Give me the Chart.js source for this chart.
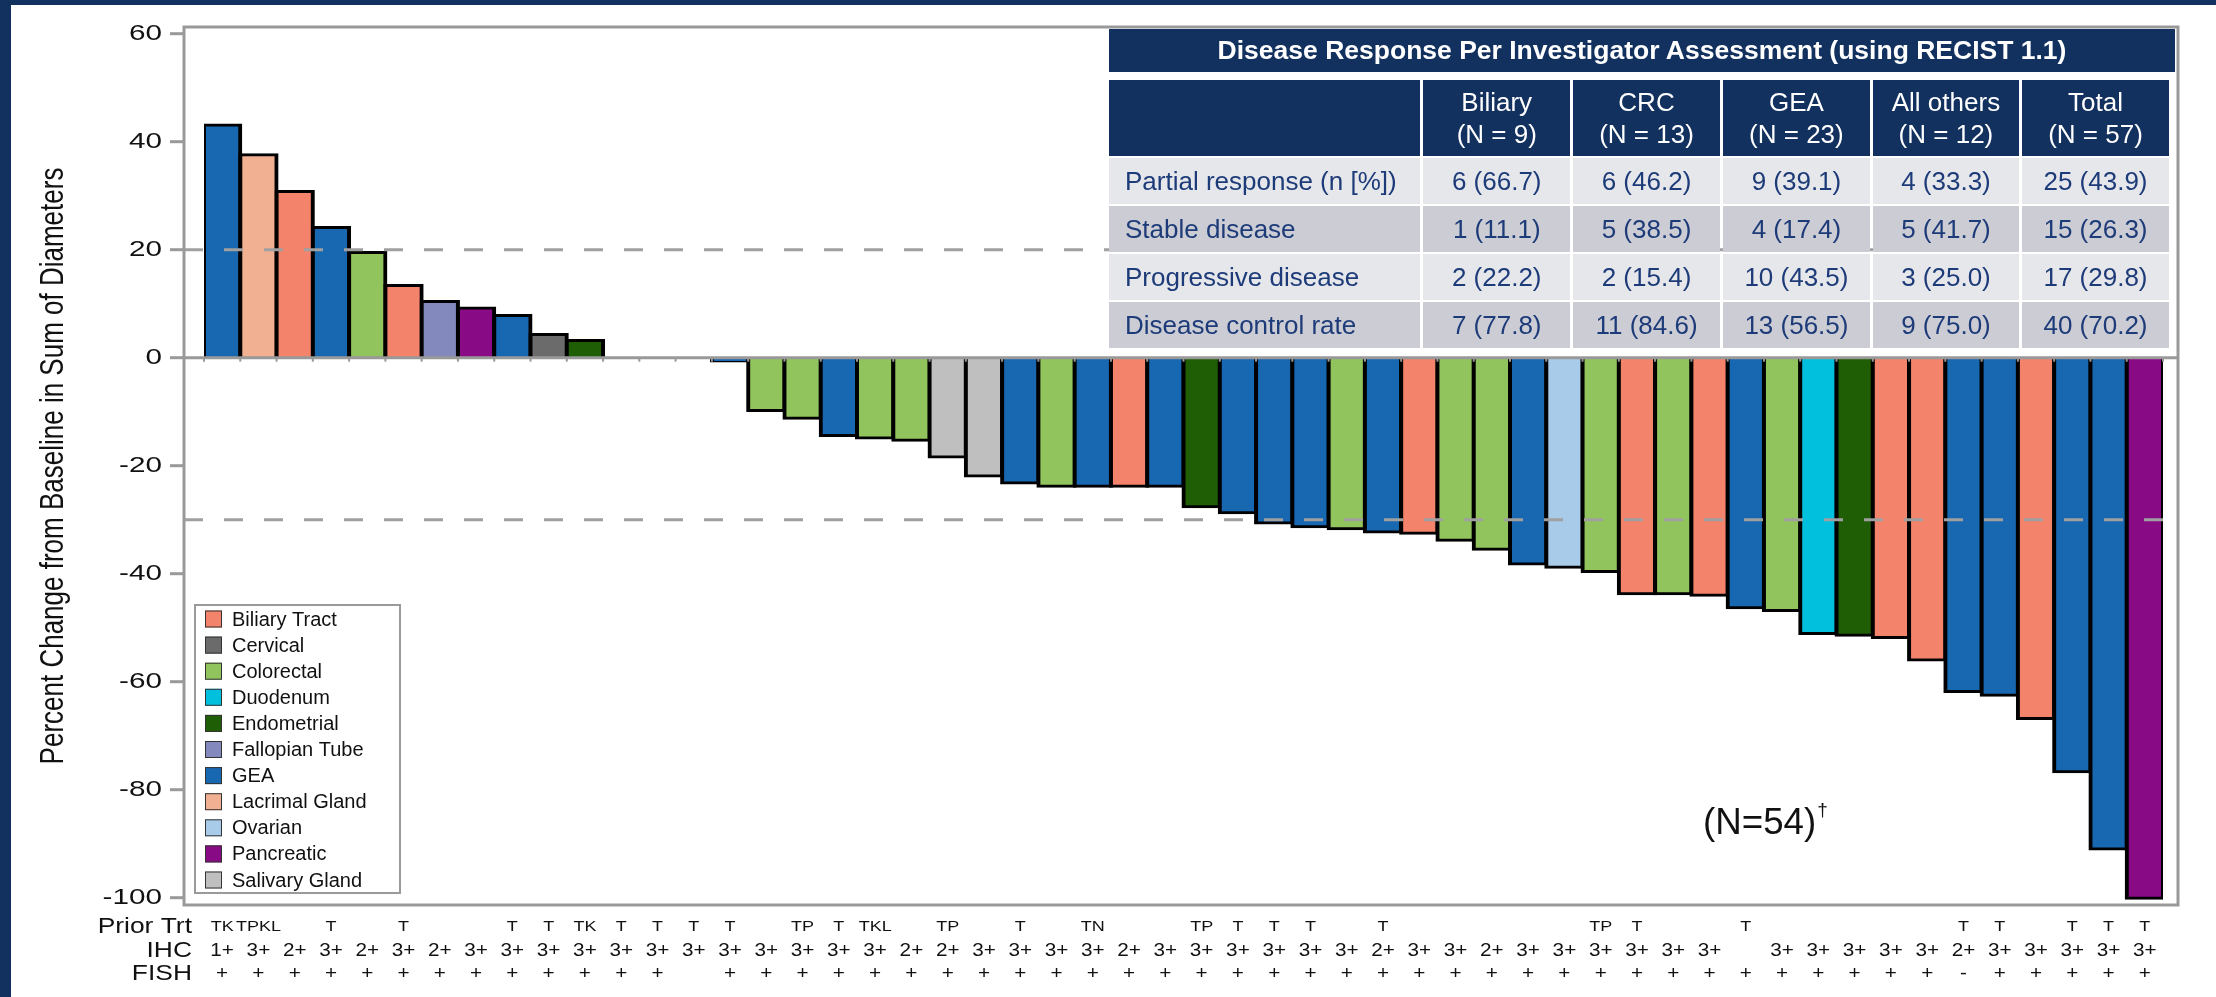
<!DOCTYPE html>
<html>
<head>
<meta charset="utf-8">
<script src="https://cdn.jsdelivr.net/npm/chart.js@4.4.1/dist/chart.umd.min.js"></script>
<style>
  html, body { margin: 0; padding: 0; background: #fff; }
  body { width: 2216px; height: 997px; position: relative; overflow: hidden; font-family: "Liberation Sans", Arial, sans-serif; }
  #chart { position: absolute; left: 0; top: 0; }
  .navy { position: absolute; background: #12315f; z-index: 5; }
  #resp { position: absolute; left: 1109px; top: 29px; width: 1066px; background: #fff; z-index: 4; }
  #resp .ttl { height: 43px; line-height: 43px; background: #12315f; color: #fff; font-weight: bold; font-size: 26.5px; text-align: center; white-space: nowrap; }
  #resp table { position: absolute; left: -3px; top: 49px; border-collapse: separate; border-spacing: 3px 2px; table-layout: fixed; }
  #resp td { padding: 0; text-align: center; font-size: 26px; color: #1d3b78; white-space: nowrap; }
  #resp tr.head td { background: #12315f; color: #fff; height: 76px; font-size: 26px; line-height: 32px; }
  #resp tr.r0 td, #resp tr.r2 td { background: #e6e7eb; height: 46px; }
  #resp tr.r1 td, #resp tr.r3 td { background: #cbccd4; height: 46px; }
  #resp td.lab { text-align: left; padding-left: 16px; }
</style>
</head>
<body>
<canvas id="chart" width="2216" height="997"></canvas>
<div class="navy" style="left:0;top:0;width:11px;height:997px"></div>
<div class="navy" style="left:0;top:0;width:2216px;height:5px"></div>
<div id="resp">
  <div class="ttl">Disease Response Per Investigator Assessment (using RECIST 1.1)</div>
  <table id="respTable"></table>
</div>
<script>
// ---- data ----
const tumorTypes = ['Biliary Tract', 'Cervical', 'Colorectal', 'Duodenum', 'Endometrial', 'Fallopian Tube',
  'GEA', 'Lacrimal Gland', 'Ovarian', 'Pancreatic', 'Salivary Gland'];

const patientType = ['GEA', 'Lacrimal Gland', 'Biliary Tract', 'GEA', 'Colorectal', 'Biliary Tract', 'Fallopian Tube',
  'Pancreatic', 'GEA', 'Cervical', 'Endometrial', 'GEA', 'GEA', 'GEA', 'GEA', 'Colorectal', 'Colorectal', 'GEA',
  'Colorectal', 'Colorectal', 'Salivary Gland', 'Salivary Gland', 'GEA', 'Colorectal', 'GEA', 'Biliary Tract', 'GEA',
  'Endometrial', 'GEA', 'GEA', 'GEA', 'Colorectal', 'GEA', 'Biliary Tract', 'Colorectal', 'Colorectal', 'GEA', 'Ovarian',
  'Colorectal', 'Biliary Tract', 'Colorectal', 'Biliary Tract', 'GEA', 'Colorectal', 'Duodenum', 'Endometrial',
  'Biliary Tract', 'Biliary Tract', 'GEA', 'GEA', 'Biliary Tract', 'GEA', 'GEA', 'Pancreatic'];

const pctChange = [43.0, 37.5, 30.7, 24.0, 19.4, 13.3, 10.3, 9.1, 7.7, 4.2, 3.1, 0, 0, 0, -0.5,
  -9.7, -11.1, -14.3, -14.8, -15.2, -18.3, -21.8, -23.1, -23.7, -23.7, -23.7, -23.7, -27.5, -28.6, -30.5,
  -31.2, -31.6, -32.2, -32.4, -33.7, -35.4, -38.1, -38.7, -39.5, -43.6, -43.6, -43.9, -46.2, -46.7, -51.0,
  -51.3, -51.7, -55.9, -61.7, -62.4, -66.7, -76.6, -90.9, -100];

const priorTrt = ['TK', 'TPKL', '', 'T', '', 'T', '', '', 'T', 'T', 'TK', 'T', 'T', 'T', 'T', '', 'TP', 'T', 'TKL', '',
  'TP', '', 'T', '', 'TN', '', '', 'TP', 'T', 'T', 'T', '', 'T', '', '', '', '', '', 'TP', 'T', '', '', 'T', '', '', '',
  '', '', 'T', 'T', '', 'T', 'T', 'T'];

const ihc = ['1+', '3+', '2+', '3+', '2+', '3+', '2+', '3+', '3+', '3+', '3+', '3+', '3+', '3+', '3+', '3+', '3+', '3+',
  '3+', '2+', '2+', '3+', '3+', '3+', '3+', '2+', '3+', '3+', '3+', '3+', '3+', '3+', '2+', '3+', '3+', '2+', '3+', '3+',
  '3+', '3+', '3+', '3+', '', '3+', '3+', '3+', '3+', '3+', '2+', '3+', '3+', '3+', '3+', '3+'];

const fish = ['+', '+', '+', '+', '+', '+', '+', '+', '+', '+', '+', '+', '+', '', '+', '+', '+', '+', '+', '+', '+', '+',
  '+', '+', '+', '+', '+', '+', '+', '+', '+', '+', '+', '+', '+', '+', '+', '+', '+', '+', '+', '+', '+', '+', '+', '+',
  '+', '+', '-', '+', '+', '+', '+', '+'];

const rowTitles = ['Prior Trt', 'IHC', 'FISH'];
const yTicks = [-100, -80, -60, -40, -20, 0, 20, 40, 60];
const refLines = [20, -30];
const yTitle = 'Percent Change from Baseline in Sum of Diameters';
const nLabel = '(N=54)';

const respGroups = ['Biliary', 'CRC', 'GEA', 'All others', 'Total'];
const respN = ['(N = 9)', '(N = 13)', '(N = 23)', '(N = 12)', '(N = 57)'];
const respRows = ['Partial response (n [%])', 'Stable disease', 'Progressive disease', 'Disease control rate'];
const partialResp = ['6 (66.7)', '6 (46.2)', '9 (39.1)', '4 (33.3)', '25 (43.9)'];
const stableDis = ['1 (11.1)', '5 (38.5)', '4 (17.4)', '5 (41.7)', '15 (26.3)'];
const progDis = ['2 (22.2)', '2 (15.4)', '10 (43.5)', '3 (25.0)', '17 (29.8)'];
const controlRate = ['7 (77.8)', '11 (84.6)', '13 (56.5)', '9 (75.0)', '40 (70.2)'];

const patientIds = pctChange.map((_, i) => String(i + 1));

// ---- styles ----
const typeColor = {
  'Biliary Tract': '#f4836b', 'Cervical': '#6b6b6b', 'Colorectal': '#92c45d', 'Duodenum': '#00c0de',
  'Endometrial': '#1f5e05', 'Fallopian Tube': '#8389bd', 'GEA': '#1767b1', 'Lacrimal Gland': '#f2b093',
  'Ovarian': '#a8cbea', 'Pancreatic': '#880a84', 'Salivary Gland': '#c0bfc0'
};
const FONT = '"Liberation Sans", Arial, sans-serif';

// response table
const tbl = document.getElementById('respTable');
const colW = [312, 148, 148, 148, 147, 148];
let html = '<colgroup>' + colW.map(w => `<col style="width:${w}px">`).join('') + '</colgroup>';
html += '<tr class="head"><td></td>' + respGroups.map((g, i) => `<td>${g}<br>${respN[i]}</td>`).join('') + '</tr>';
[partialResp, stableDis, progDis, controlRate].forEach((vals, r) => {
  html += `<tr class="r${r}"><td class="lab">${respRows[r]}</td>` + vals.map(v => `<td>${v}</td>`).join('') + '</tr>';
});
tbl.innerHTML = html;

function stretchText(c, txt, x, y, sx, align) {
  c.save();
  c.translate(x, y);
  c.scale(sx, 1);
  c.textAlign = align;
  c.fillText(txt, 0, 0);
  c.restore();
}

// plot frame sits a little outside the bar area
const frame = a => ({l: a.left - 20, r: a.right + 15, t: a.top, b: a.bottom});

const decor = {
  id: 'decor',
  afterDatasetsDraw(chart) {
    const {ctx: c, chartArea: a, scales: {x, y}} = chart;
    const f = frame(a);
    c.save();
    c.strokeStyle = '#a0a0a0';
    c.lineWidth = 3;
    c.setLineDash([19, 21]);
    refLines.forEach(v => {
      const py = y.getPixelForValue(v);
      c.beginPath(); c.moveTo(f.l, py); c.lineTo(f.r, py); c.stroke();
    });
    c.setLineDash([]);
    c.strokeStyle = '#999';
    const y0 = y.getPixelForValue(0);
    c.beginPath(); c.moveTo(f.l, y0); c.lineTo(f.r, y0); c.stroke();
    c.lineWidth = 2;
    for (let i = 0; i <= pctChange.length; i++) {
      const px = x.getPixelForValue(i - 0.5);
      c.beginPath(); c.moveTo(px, y0); c.lineTo(px, y0 + 4); c.stroke();
    }
    c.lineWidth = 3;
    c.strokeRect(f.l, f.t, f.r - f.l, f.b - f.t);
    yTicks.forEach(v => {
      const py = y.getPixelForValue(v);
      c.beginPath(); c.moveTo(f.l - 14, py); c.lineTo(f.l, py); c.stroke();
    });
    c.restore();
  },
  afterDraw(chart) {
    const {ctx: c, chartArea: a, scales: {x, y}} = chart;
    const f = frame(a);
    c.save();
    c.fillStyle = '#111';
    c.textBaseline = 'middle';

    // y tick labels
    c.font = `22px ${FONT}`;
    yTicks.forEach(v => stretchText(c, String(v), f.l - 22, y.getPixelForValue(v), 1.35, 'right'));

    // y title
    c.save();
    c.font = `26px ${FONT}`;
    c.translate(54, (a.top + a.bottom) / 2);
    c.scale(1.3, 1);
    c.rotate(-Math.PI / 2);
    c.textAlign = 'center';
    c.fillText(yTitle, 0, 0);
    c.restore();

    // rows under the bars
    const rowY = [927, 951, 974];
    c.font = `22px ${FONT}`;
    rowTitles.forEach((t, r) => stretchText(c, t, 192, rowY[r], 1.2, 'right'));
    c.font = `15px ${FONT}`;
    priorTrt.forEach((t, i) => stretchText(c, t, x.getPixelForValue(i), rowY[0], 1.2, 'center'));
    c.font = `18px ${FONT}`;
    ihc.forEach((t, i) => stretchText(c, t, x.getPixelForValue(i), rowY[1], 1.15, 'center'));
    fish.forEach((t, i) => stretchText(c, t, x.getPixelForValue(i), rowY[2], 1.15, 'center'));

    // N label
    c.textBaseline = 'alphabetic';
    c.font = `36px ${FONT}`;
    stretchText(c, nLabel, 1703, 834, 1.02, 'left');
    const nw = c.measureText(nLabel).width * 1.02;
    c.font = `19px ${FONT}`;
    c.textAlign = 'left';
    c.fillText('\u2020', 1703 + nw + 1, 816);

    // legend
    const lx = 195, ly = 605, lw = 205, lh = 288;
    c.fillStyle = '#fff';
    c.fillRect(lx, ly, lw, lh);
    c.strokeStyle = '#9a9a9a';
    c.lineWidth = 2;
    c.strokeRect(lx, ly, lw, lh);
    c.font = `20px ${FONT}`;
    c.textBaseline = 'middle';
    tumorTypes.forEach((t, i) => {
      const cy = 619 + i * 26.1;
      c.fillStyle = typeColor[t];
      c.fillRect(205, cy - 8.5, 17, 17);
      c.strokeStyle = '#333';
      c.lineWidth = 1;
      c.strokeRect(205.5, cy - 8, 16, 16);
      c.fillStyle = '#111';
      c.fillText(t, 232, cy + 1);
    });
    c.restore();
  }
};

const zeroVal = ctx => pctChange[ctx.dataIndex] === 0;

new Chart(document.getElementById('chart'), {
  type: 'bar',
  data: {
    labels: patientIds,
    datasets: [{
      data: pctChange,
      backgroundColor: ctx => typeColor[patientType[ctx.dataIndex]],
      borderColor: '#000',
      borderWidth: ctx => zeroVal(ctx) ? 0 : {top: 3, bottom: 3, left: 4, right: 4},
      inflateAmount: ctx => zeroVal(ctx) ? 0 : 2,
      borderSkipped: 'start',
      barPercentage: 1,
      categoryPercentage: 1
    }]
  },
  options: {
    responsive: false,
    animation: false,
    events: [],
    layout: {padding: {left: 0, top: 27, right: 53, bottom: 92}},
    plugins: {legend: {display: false}, tooltip: {enabled: false}},
    scales: {
      x: {display: false, offset: true},
      y: {
        min: -101.35, max: 61.24,
        afterFit: s => { s.width = 204; },
        afterBuildTicks: s => { s.ticks = yTicks.map(v => ({value: v})); },
        ticks: {display: false},
        border: {display: false},
        grid: {display: false}
      }
    }
  },
  plugins: [decor]
});
</script>
</body>
</html>
